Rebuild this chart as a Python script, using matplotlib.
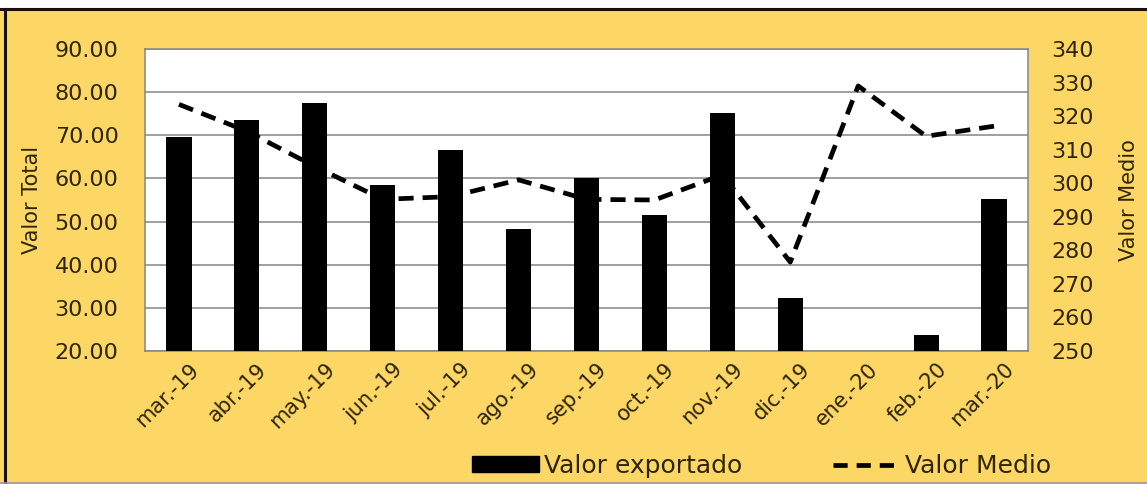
import matplotlib
matplotlib.use("Agg")
import matplotlib.pyplot as plt
import matplotlib.transforms as mtransforms
from matplotlib.patches import Rectangle
from matplotlib.lines import Line2D
import numpy as np

# ---- data ----
months = ["mar.-19", "abr.-19", "may.-19", "jun.-19", "jul.-19", "ago.-19", "sep.-19",
          "oct.-19", "nov.-19", "dic.-19", "ene.-20", "feb.-20", "mar.-20"]
valor_exportado = [69.6, 73.6, 77.5, 58.5, 66.7, 48.2, 60.0, 51.5, 75.1, 32.2, 0.0, 23.7, 55.2]
valor_medio = [323.5, 315.5, 305.0, 295.2, 296.0, 301.0, 295.2, 295.0, 302.5, 276.5, 329.0, 314.0, 317.0]
left_ticks = [20, 30, 40, 50, 60, 70, 80, 90]
right_ticks = [250, 260, 270, 280, 290, 300, 310, 320, 330, 340]

YELLOW = "#FDD766"
TXT = "#2e2500"
plt.rcParams['font.family'] = ['DejaVu Sans']

W, H = 1147, 484
fig = plt.figure(figsize=(W / 100, H / 100), dpi=100)
fig.patch.set_facecolor(YELLOW)

# frame decorations (white strip at top, borders)
fig.patches.append(Rectangle((0, 1 - 8 / H), 1, 8 / H, transform=fig.transFigure,
                             facecolor="white", edgecolor="none", zorder=0))
fig.lines.append(Line2D([0, 1], [1 - 8.5 / H, 1 - 8.5 / H], transform=fig.transFigure,
                        color="#1a1200", lw=2.2))
fig.lines.append(Line2D([5 / W, 5 / W], [0, 1 - 8.5 / H], transform=fig.transFigure,
                        color="#1a1200", lw=2.2))
fig.lines.append(Line2D([0, 1], [1.5 / H, 1.5 / H], transform=fig.transFigure,
                        color="#9a9a9a", lw=1.2))

ax = fig.add_axes([145 / W, 1 - 351 / H, (1028 - 145) / W, (351 - 49) / H])
ax.set_facecolor("white")
x = np.arange(len(months))
ax.bar(x, valor_exportado, width=0.37, color="black", zorder=3, label="Valor exportado")
ax.set_xlim(-0.5, len(months) - 0.5)
ax.set_ylim(20, 90)
ax.set_yticks(left_ticks)
ax.set_yticklabels([f"{v:.2f}" for v in left_ticks])
ax.yaxis.grid(True, color="#858585", lw=1.1, zorder=0)
ax.set_axisbelow(True)
for s in ax.spines.values():
    s.set_color("#858585")
    s.set_linewidth(1.1)
ax.tick_params(axis="y", length=0, pad=19, labelsize=16, labelcolor=TXT)
ax.set_xticks(x)
ax.set_xticklabels(months, rotation=45, ha="right", va="top", rotation_mode="anchor")
ax.tick_params(axis="x", length=0, pad=6, labelsize=15, labelcolor=TXT)
offset = mtransforms.ScaledTranslation(10 / 100, 0, fig.dpi_scale_trans)
for lab in ax.get_xticklabels():
    lab.set_transform(lab.get_transform() + offset)
ax.set_ylabel("Valor Total", fontsize=15, color=TXT, labelpad=9)

ax2 = ax.twinx()
ax2.plot(x, valor_medio, color="black", lw=3.4, dashes=(3.2, 1.9), zorder=4, label="Valor Medio")
ax2.set_ylim(250, 340)
ax2.set_yticks(right_ticks)
ax2.tick_params(axis="y", length=0, pad=17, labelsize=16, labelcolor=TXT)
for s in ax2.spines.values():
    s.set_visible(False)
ax2.set_ylabel("Valor Medio", fontsize=15, color=TXT, labelpad=18)

handles = [Rectangle((0, 0), 1, 1, color="black"),
           Line2D([0], [0], color="black", lw=3.4, dashes=(3, 1.9))]
fig.legend(handles, ["Valor exportado", "Valor Medio"], loc="center",
           bbox_to_anchor=(0.664, 1 - 466 / H), ncol=2, frameon=False,
           fontsize=18, handlelength=2.7, handleheight=0.6, handletextpad=0.2,
           columnspacing=3.6, labelcolor=TXT, borderpad=0.2)

fig.savefig("out.png", dpi=100, facecolor=fig.get_facecolor())
